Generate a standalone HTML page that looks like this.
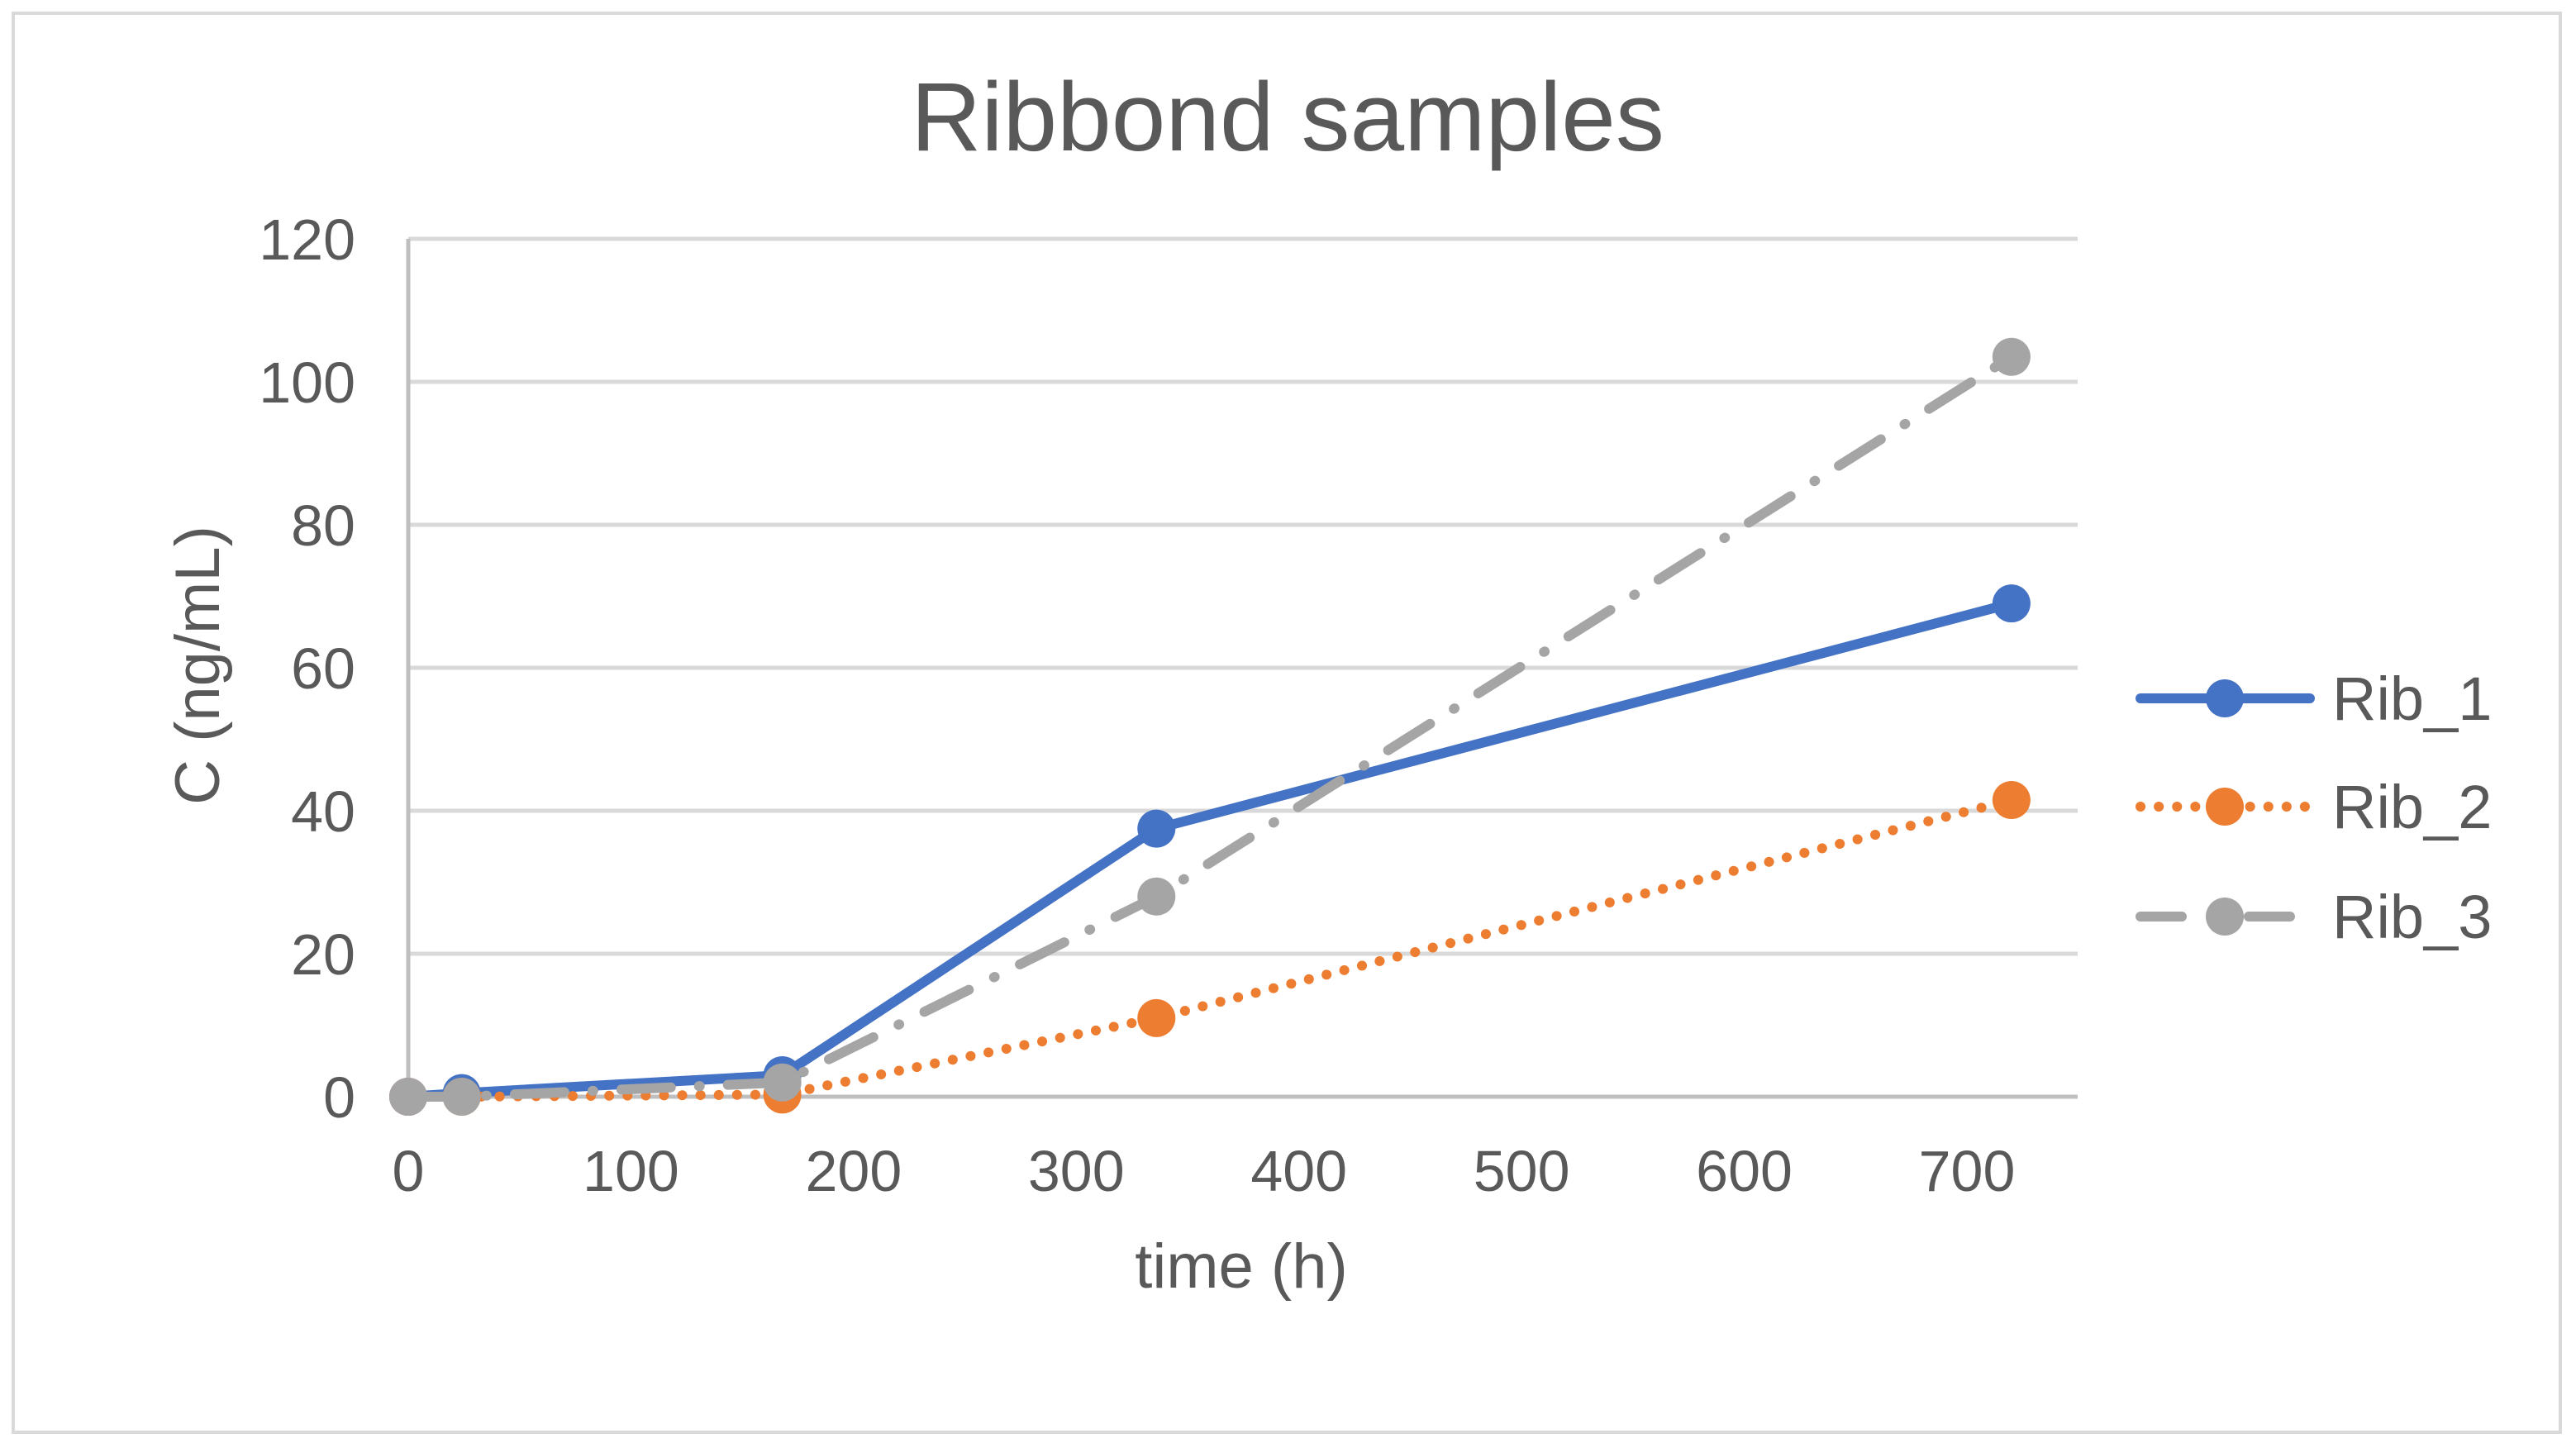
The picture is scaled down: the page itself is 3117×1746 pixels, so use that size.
<!DOCTYPE html>
<html><head><meta charset="utf-8"><style>
html,body{margin:0;padding:0;background:#fff;}
svg{display:block;font-family:"Liberation Sans",sans-serif;}
</style></head><body>
<svg id="chart" width="3117" height="1746" viewBox="0 0 3117 1746">
<rect x="16" y="16" width="3082" height="1717" fill="#fff" stroke="#d9d9d9" stroke-width="4"/>
<text x="1558" y="182" text-anchor="middle" font-size="118" fill="#595959">Ribbond samples</text>
<g id="grid"></g>
<g id="yticks"></g>
<g id="xticks"></g>
<text x="1502" y="1558" text-anchor="middle" font-size="76" fill="#595959">time (h)</text>
<text transform="translate(265,805) rotate(-90)" text-anchor="middle" font-size="76" fill="#595959">C (ng/mL)</text>
<g id="series"></g>
<g id="legend"></g>
</svg>
<script>
const xValues = [0, 24, 168, 336, 720];
const rib1 = [0, 0.5, 3, 37.5, 69];
const rib2 = [0, 0, 0.3, 11, 41.5];
const rib3 = [0, 0, 2, 28, 103.5];
const yTickLabels = [0, 20, 40, 60, 80, 100, 120];
const xTickLabels = [0, 100, 200, 300, 400, 500, 600, 700];
const seriesNames = ["Rib_1", "Rib_2", "Rib_3"];

const NS = "http://www.w3.org/2000/svg";
const X0 = 494, X1 = 2380, Y0 = 1327, Y1 = 289, XR = 2514;
const xs = v => X0 + (v / 700) * (X1 - X0);
const ys = v => Y0 - (v / 120) * (Y0 - Y1);
function mk(tag, attrs, parent) {
  const e = document.createElementNS(NS, tag);
  for (const k in attrs) e.setAttribute(k, attrs[k]);
  parent.appendChild(e);
  return e;
}
const grid = document.getElementById('grid');
const yt = document.getElementById('yticks');
const xt = document.getElementById('xticks');
yTickLabels.forEach(v => {
  const l = mk('line', {x1: X0, x2: XR, y1: ys(v), y2: ys(v), stroke: v === 0 ? '#bfbfbf' : '#d9d9d9', 'stroke-width': 5}, grid);
  
  
  const t = mk('text', {x: 430, y: ys(v) + 25, 'text-anchor': 'end', 'font-size': 70, fill: '#595959'}, yt);
  t.textContent = v;
  
  
});
const ax = mk('line', {x1: X0, x2: X0, y1: Y1, y2: Y0, stroke: '#bfbfbf', 'stroke-width': 5}, grid);


xTickLabels.forEach(v => {
  const t = mk('text', {x: xs(v), y: 1441, 'text-anchor': 'middle', 'font-size': 70, fill: '#595959'}, xt);
  t.textContent = v;
  
  
});
const styles = [
  {color: '#4472c4', dash: null, cap: 'round'},
  {color: '#ed7d31', dash: '0.1 22', cap: 'round'},
  {color: '#a5a5a5', dash: '60 34 1 34', cap: 'round'}
];
const data = [rib1, rib2, rib3];
const sg = document.getElementById('series');
const lg = document.getElementById('legend');
const legY = [845, 976, 1109];
data.forEach((arr, i) => {
  const s = styles[i];
  const g = mk('g', {}, sg);
  
  
  const pts = arr.map((v, j) => xs(xValues[j]) + ',' + ys(v)).join(' ');
  const pl = mk('polyline', {points: pts, fill: 'none', stroke: s.color, 'stroke-width': 12, 'stroke-linecap': s.cap, 'stroke-linejoin': 'round'}, g);
  if (s.dash) pl.setAttribute('stroke-dasharray', s.dash);
  
  
  arr.forEach((v, j) => {
    const c = mk('circle', {cx: xs(xValues[j]), cy: ys(v), r: 23, fill: s.color}, g);
    
    
  });
  const le = mk('g', {}, lg);
  
  
  const ll = mk('line', {x1: 2590, x2: 2795, y1: legY[i], y2: legY[i], stroke: s.color, 'stroke-width': 12, 'stroke-linecap': s.cap}, le);
  if (s.dash) ll.setAttribute('stroke-dasharray', i === 1 ? '0.1 22' : '50 40 1 40');
  mk('circle', {cx: 2692, cy: legY[i], r: 23, fill: s.color}, le);
  const t = mk('text', {x: 2822, y: legY[i] + 26, 'font-size': 74, fill: '#595959'}, le);
  t.textContent = seriesNames[i];
});
</script>
</body></html>
